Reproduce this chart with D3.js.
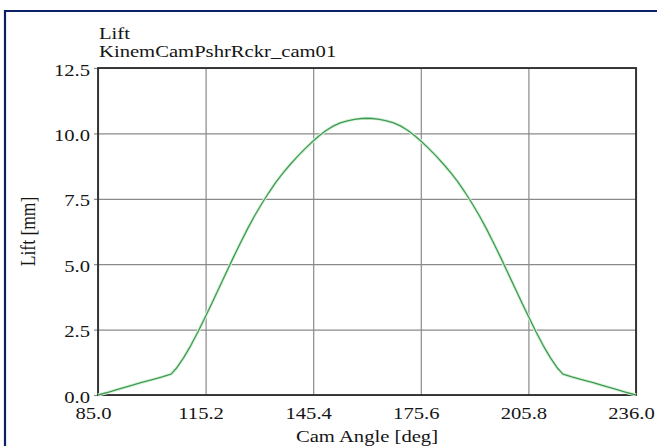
<!DOCTYPE html>
<html>
<head>
<meta charset="utf-8">
<script src="https://cdn.jsdelivr.net/npm/d3@7"></script>
<style>
  html, body { margin: 0; padding: 0; background: #fff; }
  svg { display: block; }
  text { font-family: "Liberation Serif", "Times New Roman", serif; fill: #151515; }
</style>
</head>
<body>
<svg id="chart" width="657" height="446"></svg>
<script>
// Cam follower lift over cam rotation angle
const camAngle = [
  85, 88, 91, 94, 97, 100, 103, 105.5, 107, 109, 111, 113, 115, 117, 119, 121,
  123, 125, 127, 129, 131, 133, 135, 137, 139, 141, 143, 145, 147, 149, 151, 153,
  155, 157, 159, 160.5, 162, 164, 166, 168, 170, 172, 174, 176, 178, 180, 182, 184,
  186, 188, 190, 192, 194, 196, 198, 200, 202, 204, 206, 208, 210, 212, 214, 215.5,
  218, 221, 224, 227, 230, 233, 236
];
const lift = [
  0.00, 0.11, 0.23, 0.35, 0.47, 0.58, 0.69, 0.80, 1.02, 1.42, 1.88, 2.40, 2.95, 3.52, 4.10, 4.68,
  5.26, 5.82, 6.36, 6.86, 7.32, 7.75, 8.15, 8.50, 8.82, 9.12, 9.40, 9.66, 9.90, 10.11, 10.28, 10.40,
  10.48, 10.54, 10.57, 10.58, 10.57, 10.54, 10.48, 10.40, 10.28, 10.11, 9.90, 9.66, 9.40, 9.12, 8.82, 8.50,
  8.15, 7.75, 7.32, 6.86, 6.36, 5.82, 5.26, 4.68, 4.10, 3.52, 2.95, 2.40, 1.88, 1.42, 1.02, 0.80,
  0.69, 0.58, 0.47, 0.35, 0.23, 0.11, 0.00
];
const xTicks = [85.0, 115.2, 145.4, 175.6, 205.8, 236.0];
const yTicks = [0, 2.5, 5.0, 7.5, 10.0, 12.5];
const chartTitle = "Lift";
const chartSubtitle = "KinemCamPshrRckr_cam01";
const xTitle = "Cam Angle [deg]";
const yTitle = "Lift [mm]";

const W = 657, H = 446;
const plot = { left: 98, top: 68, right: 636, bottom: 395 };
const FS = 17.5;     // font size
const SX = 1.18;     // horizontal widening of the serif glyphs

const svg = d3.select("#chart");
svg.append("rect").attr("width", W).attr("height", H).attr("fill", "#fff");

// window frame (top and left edges)
svg.append("path")
  .attr("d", `M5,${H} V11 H${W}`)
  .attr("fill", "none")
  .attr("stroke", "#0b2266")
  .attr("stroke-width", 2.2);

const x = d3.scaleLinear().domain([xTicks[0], xTicks[xTicks.length - 1]]).range([plot.left, plot.right]);
const y = d3.scaleLinear().domain([yTicks[0], yTicks[yTicks.length - 1]]).range([plot.bottom, plot.top]);
const pw = plot.right - plot.left, ph = plot.bottom - plot.top;

// grid lines
const gx = svg.append("g")
  .attr("transform", `translate(0,${plot.bottom})`)
  .call(d3.axisBottom(x).tickValues(xTicks).tickSize(-ph).tickFormat(""));
gx.select(".domain").remove();
gx.selectAll(".tick line").attr("stroke", "#8a8a8a").attr("stroke-width", 1.2);

const gy = svg.append("g")
  .attr("transform", `translate(${plot.left},0)`)
  .call(d3.axisLeft(y).tickValues(yTicks).tickSize(-pw).tickFormat(""));
gy.select(".domain").remove();
gy.selectAll(".tick line").attr("stroke", "#8a8a8a").attr("stroke-width", 1.2);

// outward y tick marks and labels
const ay = svg.append("g")
  .attr("transform", `translate(${plot.left},0)`)
  .call(d3.axisLeft(y).tickValues(yTicks).tickSize(4).tickFormat(d3.format(".1f")));
ay.select(".domain").remove();
ay.selectAll(".tick line").attr("stroke", "#8a8a8a").attr("stroke-width", 1.2);
ay.selectAll(".tick text")
  .attr("x", 0).attr("y", 0).attr("dy", null)
  .attr("transform", `translate(-8,7) scale(${SX},1)`)
  .attr("text-anchor", "end")
  .style("font-size", FS + "px").attr("fill", "#151515");

// x labels
const ax = svg.append("g")
  .attr("transform", `translate(0,${plot.bottom})`)
  .call(d3.axisBottom(x).tickValues(xTicks).tickSize(0).tickFormat(d3.format(".1f")));
ax.select(".domain").remove();
ax.selectAll(".tick text")
  .attr("x", 0).attr("y", 0).attr("dy", null)
  .attr("transform", `translate(-5,24) scale(${SX},1)`)
  .attr("text-anchor", "middle")
  .style("font-size", FS + "px").attr("fill", "#151515");
svg.selectAll("g").attr("font-family", null).attr("font-size", null);

// plot frame
svg.append("rect")
  .attr("x", plot.left).attr("y", plot.top)
  .attr("width", pw).attr("height", ph)
  .attr("fill", "none")
  .attr("stroke", "#2a2a2a")
  .attr("stroke-width", 1.8);

// lift curve
const pts = camAngle.map((a, i) => [a, lift[i]]);
const line = d3.line().x(d => x(d[0])).y(d => y(d[1]));
svg.append("path").datum(pts)
  .attr("d", line)
  .attr("fill", "none")
  .attr("stroke", "#d8f2d8")
  .attr("stroke-width", 3.2)
  .attr("stroke-linejoin", "round");
svg.append("path").datum(pts)
  .attr("d", line)
  .attr("fill", "none")
  .attr("stroke", "#3f9a55")
  .attr("stroke-width", 1.3)
  .attr("stroke-linejoin", "round");

// titles
svg.append("text")
  .attr("transform", `translate(99,39) scale(${SX},1)`)
  .style("font-size", FS + "px")
  .text(chartTitle);
svg.append("text")
  .attr("transform", `translate(99,57) scale(${SX},1)`)
  .style("font-size", FS + "px")
  .text(chartSubtitle);
svg.append("text")
  .attr("transform", `translate(${(plot.left + plot.right) / 2},442) scale(${SX},1)`)
  .attr("text-anchor", "middle")
  .style("font-size", FS + "px")
  .text(xTitle);
svg.append("text")
  .attr("transform", `translate(35,${(plot.top + plot.bottom) / 2}) scale(${SX},1) rotate(-90)`)
  .attr("text-anchor", "middle")
  .style("font-size", FS + "px")
  .text(yTitle);
</script>
</body>
</html>
